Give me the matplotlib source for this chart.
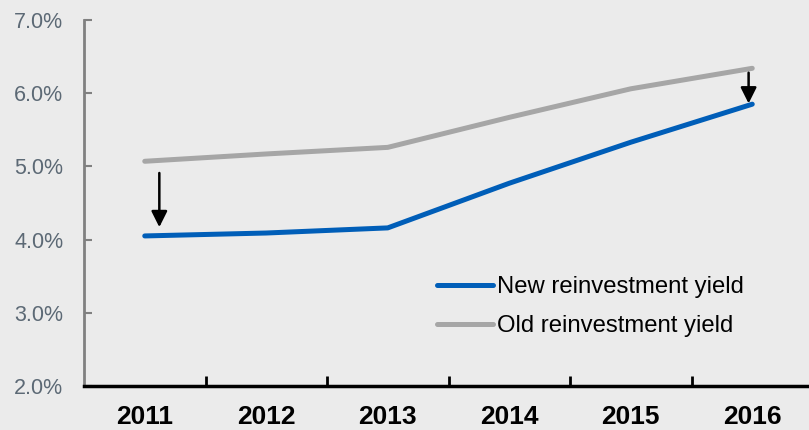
import matplotlib

matplotlib.use("Agg")
import matplotlib.pyplot as plt

plt.rcParams["font.family"] = ["Liberation Sans", "DejaVu Sans"]

years = ["2011", "2012", "2013", "2014", "2015", "2016"]
new_yield = [4.05, 4.09, 4.16, 4.77, 5.33, 5.85]
old_yield = [5.07, 5.17, 5.26, 5.67, 6.06, 6.34]
y_ticks = [2.0, 3.0, 4.0, 5.0, 6.0, 7.0]

# arrows: (x position, start, tip) in data units
arrows = [(0.12, 4.91, 4.17), (4.97, 6.28, 5.86)]

BG = "#EBEBEB"
BLUE = "#005EB8"
GRAY = "#A6A6A6"
LABEL = "#5C6975"

fig = plt.figure(figsize=(8.09, 4.30), dpi=100, facecolor=BG)
ax = fig.add_axes([84 / 809, 44 / 430, 729 / 809, 366 / 430])
ax.set_facecolor(BG)

x = list(range(len(years)))
ax.plot(x, new_yield, color=BLUE, lw=3.6, solid_capstyle="round", label="New reinvestment yield")
ax.plot(x, old_yield, color=GRAY, lw=3.6, solid_capstyle="round", label="Old reinvestment yield")

for xa, y0, y1 in arrows:
    ax.annotate("", xy=(xa, y1), xytext=(xa, y0),
                arrowprops=dict(arrowstyle="-|>", color="black", lw=1.8,
                                mutation_scale=24, shrinkA=0, shrinkB=0))

ax.set_xlim(-0.5, 5.5)
ax.set_ylim(2.0, 7.0)

ax.set_yticks(y_ticks)
ax.set_yticklabels([f"{v:.1f}%" for v in y_ticks])
ax.tick_params(axis="y", direction="in", length=6, width=1.5, color="#808080",
               labelsize=15.5, labelcolor=LABEL, pad=15)

ax.set_xticks([i + 0.5 for i in x[:-1]], minor=True)
ax.set_xticks(x)
ax.set_xticklabels(years, fontweight="bold", fontsize=19)
ax.tick_params(axis="x", which="major", length=0, pad=14, labelcolor="black")
ax.tick_params(axis="x", which="minor", direction="in", length=7, width=2, color="black")

for s in ["top", "right"]:
    ax.spines[s].set_visible(False)
ax.spines["left"].set_color("#808080")
ax.spines["left"].set_linewidth(2)
ax.spines["bottom"].set_color("black")
ax.spines["bottom"].set_linewidth(2.5)

ax.legend(loc="upper left", bbox_to_anchor=(437 / 809, 1 - 276 / 430),
          bbox_transform=fig.transFigure, frameon=False, fontsize=17.2,
          handlelength=2.35, handletextpad=0.18, labelspacing=0.72,
          borderpad=0, borderaxespad=0)

fig.savefig("out.png", dpi=100, facecolor=BG)
